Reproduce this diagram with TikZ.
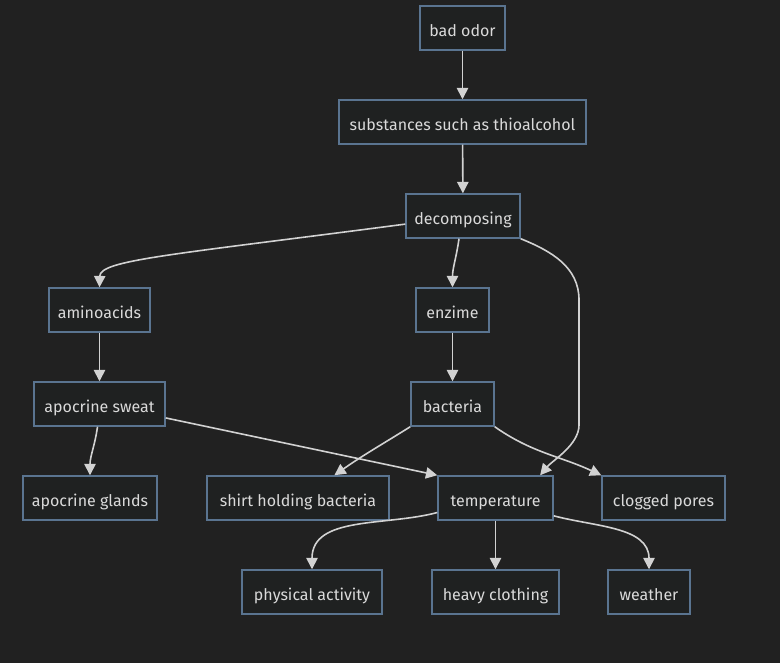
\documentclass[tikz,border=0pt]{standalone}
\usepackage{fontspec}
\setmainfont{Fira Sans}
\usepackage{tikz}
\usetikzlibrary{arrows.meta}
\definecolor{bgcol}{HTML}{212121}
\definecolor{boxfill}{HTML}{1F2121}
\definecolor{boxline}{HTML}{5A7490}
\definecolor{boxtext}{HTML}{DADADA}
\definecolor{linkcol}{HTML}{D2D2D2}

\begin{document}
\begin{tikzpicture}[
x=0.75pt, y=-0.75pt,
MyBoxes/.style={draw=boxline,fill=boxfill,line width=1.1pt,text=boxtext,
  minimum height=33pt,inner sep=0pt,text height=13pt,text depth=0pt,
  font=\fontsize{12}{14}\selectfont},
Links/.style={draw=linkcol,line width=1.2pt,
  -{Triangle[length=8.5pt, width=8.5pt]}}
]
% background and page size
\fill[bgcol] (0,0) rectangle (780,663);

% top chain
\node[MyBoxes, minimum width=63.75pt] (odor) at (462.5,28) {bad odor};
\node[MyBoxes, minimum width=185.25pt] (subst) at (462.5,122) {substances such as thioalcohol};
\node[MyBoxes, minimum width=85.5pt] (decomp) at (463,216) {decomposing};

% middle rows
\node[MyBoxes, minimum width=75.75pt] (amino) at (99.5,310) {aminoacids};
\node[MyBoxes, minimum width=54.75pt] (enzime) at (452.5,310) {enzime};
\node[MyBoxes, minimum width=98.25pt] (sweat) at (99.5,404) {apocrine sweat};
\node[MyBoxes, minimum width=62.25pt] (bact) at (452.5,404) {bacteria};

% lower rows
\node[MyBoxes, minimum width=100.5pt] (glands) at (90,498) {apocrine glands};
\node[MyBoxes, minimum width=136.5pt] (shirt) at (298,498) {shirt holding bacteria};
\node[MyBoxes, minimum width=86.25pt] (temp) at (495.5,498) {temperature};
\node[MyBoxes, minimum width=92.25pt] (pores) at (663.5,498) {clogged pores};
\node[MyBoxes, minimum width=105pt] (phys) at (312,592) {physical activity};
\node[MyBoxes, minimum width=95.25pt] (cloth) at (495.5,592) {heavy clothing};
\node[MyBoxes, minimum width=61.5pt] (weather) at (649,592) {weather};

% bends of the long link
\coordinate (dt1) at (579,300);
\coordinate (dt2) at (579,425);

\draw[Links] (odor) -- (subst);
\draw[Links] (subst) -- (decomp);
\draw[Links] (decomp.188) .. controls (170,255) and (100,260) .. (amino.north);
\draw[Links] (decomp.-100) to[out=-98,in=90] (enzime.north);
\draw[Links] (decomp.south east) to[out=-22,in=90] (dt1) -- (dt2)
  to[out=-90,in=50,looseness=0.8] (temp.27);
\draw[Links] (amino) -- (sweat);
\draw[Links] (enzime) -- (bact);
\draw[Links] (sweat.-95) to[out=-98,in=90] (glands.north);
\draw[Links] (sweat) -- (temp.north west);
\draw[Links] (bact.south west) to[out=-148,in=35] (shirt.32);
\draw[Links] (bact.south east) to[out=-35,in=155] (pores.north west);
\draw[Links] (temp.194) to[out=195,in=90] (phys.north);
\draw[Links] (temp) -- (cloth);
\draw[Links] (temp.-17) to[out=-15,in=90] (weather.north);

\end{tikzpicture}
\end{document}
